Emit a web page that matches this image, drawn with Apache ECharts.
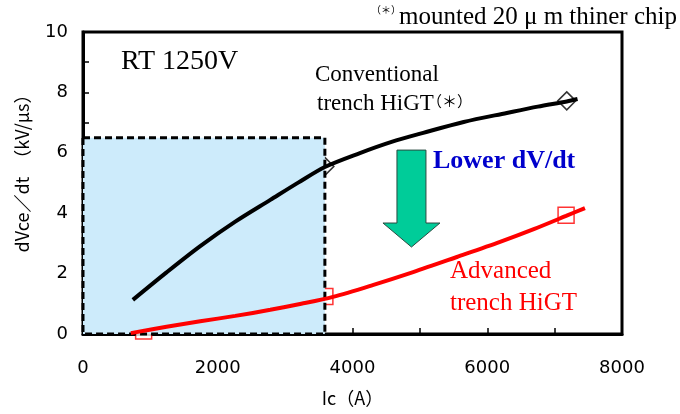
<!DOCTYPE html>
<html><head><meta charset="utf-8">
<script src="https://cdn.jsdelivr.net/npm/echarts@6.0.0/dist/echarts.min.js"></script>
<style>html,body{margin:0;padding:0;background:#fff}#c{width:680px;height:414px}</style>
</head><body><div id="c"></div>
<script>
// Conventional trench HiGT curve (Ic in A, dVce/dt in kV/us)
const convIc = [740, 1240, 1740, 2260, 2780, 3200, 3590, 4110, 4580, 5050, 5650, 6290, 6750, 7180, 7340];
const convDv = [1.13, 2.04, 2.91, 3.72, 4.44, 5.02, 5.53, 5.99, 6.36, 6.66, 7.02, 7.32, 7.53, 7.70, 7.78];
// Advanced trench HiGT curve
const advIc = [710, 1240, 1740, 2260, 2780, 3240, 3710, 4300, 4900, 5550, 6190, 6700, 7170, 7450];
const advDv = [0.03, 0.24, 0.42, 0.60, 0.80, 1.00, 1.23, 1.62, 2.05, 2.55, 3.05, 3.48, 3.91, 4.17];
// measured points (markers)
const convMarkIc = [3590, 7180];
const convMarkDv = [5.55, 7.72];
const advMarkIc = [900, 3590, 7170];
const advMarkDv = [0.10, 1.24, 3.93];
// shaded region: Ic range and dV/dt range
const shadeIc = [0, 3590];
const shadeDv = [0, 6.5];
// "Lower dV/dt" arrow: Ic position, from dV/dt to dV/dt
const arrowIc = [4875];
const arrowDv = [6.09, 2.88];
// axis ticks
const xTicks = [0, 2000, 4000, 6000, 8000];
const yTicks = [0, 2, 4, 6, 8, 10];

const zip = (a, b) => a.map((v, i) => [v, b[i]]);
const chart = echarts.init(document.getElementById('c'));
const serif = 'Liberation Serif, Times New Roman, serif';
const cjk = 'Noto Sans CJK JP, sans-serif';

chart.setOption({
  animation: false,
  grid: { left: 83, right: 58, top: 32, bottom: 80, show: true, borderColor: '#000', borderWidth: 3, backgroundColor: 'transparent' },
  xAxis: {
    type: 'value', min: xTicks[0], max: xTicks[xTicks.length - 1], interval: 1000,
    axisLine: { lineStyle: { color: '#000', width: 3 } },
    axisTick: { inside: true, length: 6, lineStyle: { color: '#000', width: 1.5 } },
    splitLine: { show: false },
    axisLabel: { formatter: v => xTicks.includes(v) ? String(v) : '', color: '#000', fontSize: 18, fontFamily: 'DejaVu Sans', margin: 25 },
    name: 'Ic（A）', nameLocation: 'middle', nameGap: 55,
    nameTextStyle: { color: '#000', fontSize: 18, fontFamily: cjk }
  },
  yAxis: {
    type: 'value', min: yTicks[0], max: yTicks[yTicks.length - 1], interval: 1,
    axisLine: { lineStyle: { color: '#000', width: 3 } },
    axisTick: { inside: true, length: 6, lineStyle: { color: '#000', width: 1.5 } },
    splitLine: { show: false },
    axisLabel: { formatter: v => yTicks.includes(v) ? String(v) : '', color: '#000', fontSize: 18, fontFamily: 'DejaVu Sans', margin: 15 },
    name: 'dVce／dt　（kV/μs）', nameLocation: 'middle', nameGap: 52, nameRotate: 90,
    nameTextStyle: { color: '#000', fontSize: 18, fontFamily: cjk, padding: [0, 0, 0, 28] }
  },
  series: [
    {
      type: 'scatter', z: 2, clip: false, symbol: 'diamond', symbolSize: 18,
      itemStyle: { color: '#fff', borderColor: '#000', borderWidth: 1.5 },
      data: zip(convMarkIc, convMarkDv)
    },
    {
      type: 'scatter', z: 2, clip: false, symbol: 'rect', symbolSize: 16,
      itemStyle: { color: '#fff', borderColor: '#ff0000', borderWidth: 1.5 },
      data: zip(advMarkIc, advMarkDv)
    },
    {
      type: 'custom', z: 3, clip: false,
      data: [[shadeIc[0], shadeDv[0], shadeIc[1], shadeDv[1]]],
      encode: { x: [0, 2], y: [1, 3] },
      renderItem: (params, api) => {
        const p0 = api.coord([api.value(0), api.value(1)]);
        const p1 = api.coord([api.value(2), api.value(3)]);
        return {
          type: 'rect',
          shape: { x: p0[0], y: p1[1], width: p1[0] - p0[0], height: p0[1] - p1[1] },
          style: { fill: '#cdebfb', stroke: '#000', lineWidth: 3, lineDash: [7, 4] }
        };
      }
    },
    {
      type: 'custom', z: 3, clip: false,
      data: [[arrowIc[0], arrowDv[0], arrowDv[1]]],
      encode: { x: 0, y: [1, 2] },
      renderItem: (params, api) => {
        const top = api.coord([api.value(0), api.value(1)]);
        const tip = api.coord([api.value(0), api.value(2)]);
        const cx = top[0], sw = 14.5, hw = 28.5, hh = 24;
        const hy = tip[1] - hh;
        return {
          type: 'polygon',
          shape: { points: [[cx - sw, top[1]], [cx + sw, top[1]], [cx + sw, hy], [cx + hw, hy], [cx, tip[1]], [cx - hw, hy], [cx - sw, hy]] },
          style: { fill: '#00cc99', stroke: '#2a4a40', lineWidth: 1 }
        };
      }
    },
    {
      type: 'line', z: 4, smooth: 0.3, showSymbol: false, symbol: 'none',
      lineStyle: { color: '#000', width: 4 },
      data: zip(convIc, convDv)
    },
    {
      type: 'line', z: 4, smooth: 0.3, showSymbol: false, symbol: 'none',
      lineStyle: { color: '#ff0000', width: 4 },
      data: zip(advIc, advDv)
    }
  ],
  graphic: [
    { type: 'text', z: 10, left: 121, top: 48, style: { text: 'RT 1250V', font: '28px ' + serif, fill: '#000' } },
    { type: 'text', z: 10, left: 315, top: 63, style: { text: 'Conventional', font: '23px ' + serif, fill: '#000' } },
    { type: 'text', z: 10, left: 317, top: 92, style: { text: 'trench HiGT', font: '23px ' + serif, fill: '#000' } },
    { type: 'text', z: 10, left: 427, top: 94, style: { text: '（＊）', font: '15px ' + cjk, fill: '#000' } },
    { type: 'text', z: 10, left: 433, top: 148, style: { text: 'Lower dV/dt', font: 'bold 26px ' + serif, fill: '#0000cc' } },
    { type: 'text', z: 10, left: 450, top: 259, style: { text: 'Advanced', font: '25px ' + serif, fill: '#ff0000' } },
    { type: 'text', z: 10, left: 450, top: 291, style: { text: 'trench HiGT', font: '25px ' + serif, fill: '#ff0000' } },
    { type: 'text', z: 10, left: 371, top: 5, style: { text: '（＊）', font: '10px ' + cjk, fill: '#000' } },
    { type: 'text', z: 10, left: 399, top: 5, style: { text: 'mounted 20 μ m thiner chip', font: '25px ' + serif, fill: '#000' } }
  ]
});
</script></body></html>
